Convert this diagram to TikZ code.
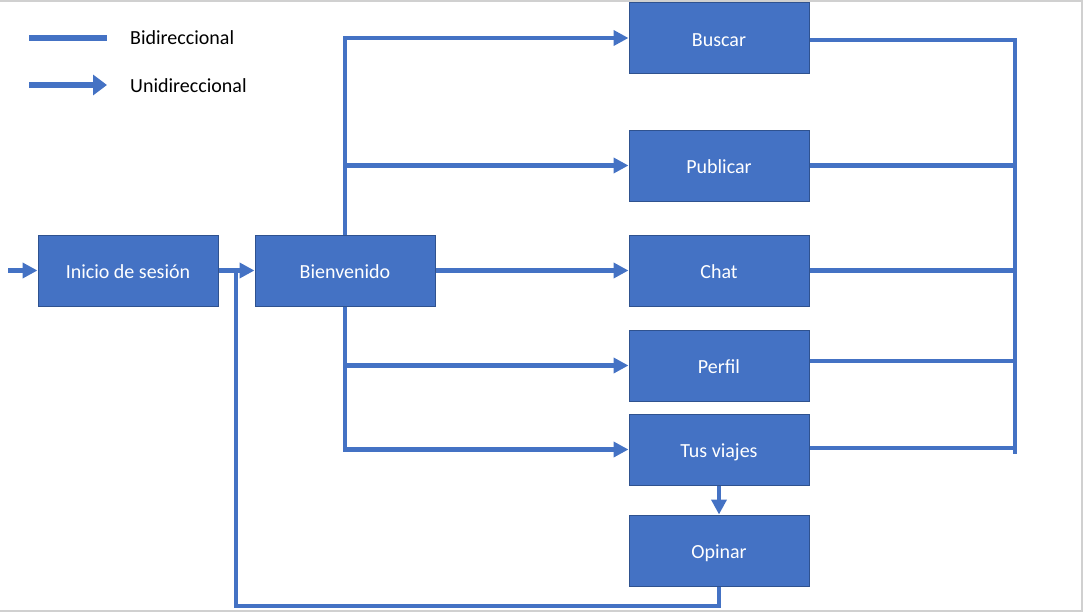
\documentclass[tikz,border=0pt]{standalone}
\usepackage{fontspec}
\setmainfont{Carlito}
\usetikzlibrary{arrows.meta,calc}
\definecolor{officeblue}{HTML}{4472C4}
\definecolor{officeedge}{HTML}{2F528F}
\definecolor{framegray}{HTML}{D0D0D0}
\begin{document}
\begin{tikzpicture}[x=1pt,y=-1pt,
  box/.style={rectangle,fill=officeblue,draw=officeedge,line width=1pt,
    minimum width=180pt,minimum height=71pt,inner sep=0pt,
    text height=17pt,text depth=1pt,
    text=white,font=\fontsize{20}{24}\selectfont},
  conn/.style={draw=officeblue,line width=4.5pt,line join=miter},
  uni/.style={conn,-{Triangle[length=15pt,width=15pt]}},
  legline/.style={draw=officeblue,line width=6.5pt},
  leguni/.style={legline,-{Triangle[length=14pt,width=20pt]}},
  legtext/.style={anchor=west,inner sep=0pt,font=\fontsize{20}{24}\selectfont,text=black}]
\useasboundingbox (0,0) rectangle (1084,613);
\draw[framegray,line width=1.5pt] (0,1) -- (1082,1) -- (1082,611) -- (0,611);
% legend
\coordinate (lbA) at (29,38);
\coordinate (lbB) at (107,38);
\coordinate (luA) at (29,85);
\coordinate (luB) at (107,85);
\draw[legline] (lbA) -- (lbB);
\draw[leguni] (luA) -- (luB);
\node[legtext] (tbi) at (130,38) {Bidireccional};
\node[legtext] (tuni) at (130,86) {Unidireccional};
% boxes
\node[box] (inicio) at (128,270.5) {Inicio de sesión};
\node[box] (bien) at (345,270.5) {Bienvenido};
\node[box] (buscar) at (719,38) {Buscar};
\node[box] (publicar) at (719,165.5) {Publicar};
\node[box] (chat) at (719,270.5) {Chat};
\node[box] (perfil) at (719,365.5) {Perfil};
\node[box] (tus) at (719,449.5) {Tus viajes};
\node[box] (opinar) at (719,550.5) {Opinar};
% entry
\coordinate (entry) at (8,270.5);
\draw[uni] (entry) -- (inicio.west);
\draw[uni] (inicio.east) -- (bien.west);
% from Bienvenido
\draw[uni] (bien.north) |- (buscar.west);
\draw[uni] (bien.north) |- (publicar.west);
\draw[uni] (bien.east) -- (chat.west);
\draw[uni] (bien.south) |- (perfil.west);
\draw[uni] (bien.south) |- (tus.west);
% right bus
\coordinate (busTop) at (1015,40);
\coordinate (busBot) at (1015,454);
\draw[conn] ([yshift=-2pt]buscar.east) -- (busTop) -- (busBot);
\draw[conn] (publicar.east) -- (publicar.east -| busTop);
\draw[conn] (chat.east) -- (chat.east -| busTop);
\draw[conn] ([yshift=4.5pt]perfil.east) -- ([yshift=4.5pt]perfil.east -| busTop);
\draw[conn] ([yshift=1.5pt]tus.east) -- ([yshift=1.5pt]tus.east -| busTop);
% Tus viajes -> Opinar
\draw[uni] (tus.south) -- (opinar.north);
% feedback loop
\coordinate (loopBot) at (719,606);
\coordinate (join) at (236,270.5);
\draw[conn] (opinar.south) -- (loopBot) -| (join);
\end{tikzpicture}
\end{document}
